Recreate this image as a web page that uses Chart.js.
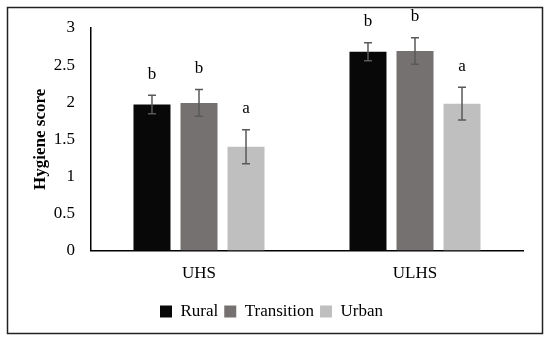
<!DOCTYPE html>
<html>
<head>
<meta charset="utf-8">
<script src="https://cdn.jsdelivr.net/npm/chart.js@4.4.0/dist/chart.umd.min.js"></script>
<style>
  html, body { margin: 0; padding: 0; background: #fff; }
  #wrap { width: 550px; height: 342px; }
</style>
</head>
<body>
<div id="wrap"><canvas id="myChart" width="550" height="342"></canvas></div>
<script>
const categories = ["UHS", "ULHS"];
const seriesNames = ["Rural", "Transition", "Urban"];
const rural = [1.97, 2.68];
const transition = [1.99, 2.69];
const urban = [1.40, 1.98];
const ruralErr = [0.125, 0.12];
const transitionErr = [0.18, 0.18];
const urbanErr = [0.23, 0.22];
const ruralLetters = ["b", "b"];
const transitionLetters = ["b", "b"];
const urbanLetters = ["a", "a"];
const yTicks = [0, 0.5, 1, 1.5, 2, 2.5, 3];

const serif = "'Liberation Serif', 'DejaVu Serif', serif";
const colors = ["#080808", "#767171", "#bfbfbf"];

// draw white background and the outer frame
const framePlugin = {
  id: "frame",
  beforeDraw(chart) {
    const ctx = chart.ctx;
    ctx.save();
    ctx.fillStyle = "#fff";
    ctx.fillRect(0, 0, chart.width, chart.height);
    ctx.strokeStyle = "#222";
    ctx.lineWidth = 1.5;
    ctx.strokeRect(7.5, 7.5, 535, 326);
    ctx.restore();
  },
};

// error bars + significance letters
const errorPlugin = {
  id: "errorBars",
  afterDatasetsDraw(chart) {
    const ctx = chart.ctx;
    const y = chart.scales.y;
    ctx.save();
    chart.data.datasets.forEach((ds, i) => {
      const meta = chart.getDatasetMeta(i);
      meta.data.forEach((bar, j) => {
        const v = ds.data[j];
        const e = ds.errors[j];
        const top = y.getPixelForValue(v + e);
        const bot = y.getPixelForValue(v - e);
        ctx.strokeStyle = "#595959";
        ctx.lineWidth = 1.5;
        ctx.beginPath();
        ctx.moveTo(bar.x, top);
        ctx.lineTo(bar.x, bot);
        ctx.moveTo(bar.x - 4, top);
        ctx.lineTo(bar.x + 4, top);
        ctx.moveTo(bar.x - 4, bot);
        ctx.lineTo(bar.x + 4, bot);
        ctx.stroke();
        ctx.fillStyle = "#000";
        ctx.font = "17px " + serif;
        ctx.textAlign = "center";
        ctx.textBaseline = "middle";
        ctx.fillText(ds.letters[j], bar.x, top - 21);
      });
    });
    ctx.restore();
  },
};

const data = {
  labels: categories,
  datasets: [
    { label: seriesNames[0], data: rural, errors: ruralErr, letters: ruralLetters, backgroundColor: colors[0] },
    { label: seriesNames[1], data: transition, errors: transitionErr, letters: transitionLetters, backgroundColor: colors[1] },
    { label: seriesNames[2], data: urban, errors: urbanErr, letters: urbanLetters, backgroundColor: colors[2] },
  ],
};

const config = {
  type: "bar",
  data: data,
  options: {
    responsive: false,
    animation: false,
    categoryPercentage: 0.653,
    barPercentage: 0.787,
    layout: {
      padding: { left: 20, right: 27, top: 28, bottom: 12 },
    },
    scales: {
      x: {
        grid: { display: false, drawTicks: false },
        border: { color: "#000", width: 1.5 },
        ticks: {
          color: "#000",
          font: { family: serif, size: 17 },
          padding: 13,
        },
      },
      y: {
        min: 0,
        max: 3,
        afterBuildTicks(scale) {
          scale.ticks = yTicks.map((v) => ({ value: v }));
        },
        afterFit(scale) {
          scale.width = 71;
        },
        grid: { display: false, drawTicks: false },
        border: { color: "#000", width: 1.5 },
        ticks: {
          color: "#000",
          font: { family: serif, size: 17 },
          padding: 16,
          callback: (v) => String(v),
        },
        title: {
          display: true,
          text: "Hygiene score",
          color: "#000",
          font: { family: serif, size: 17, weight: "bold" },
          padding: { top: 10, bottom: 0 },
        },
      },
    },
    plugins: {
      legend: {
        position: "bottom",
        labels: {
          color: "#000",
          boxWidth: 12,
          boxHeight: 12,
          font: { family: serif, size: 17 },
          padding: 6,
        },
      },
      tooltip: { enabled: false },
    },
  },
  plugins: [framePlugin, errorPlugin],
};

const myChart = new Chart(document.getElementById("myChart"), config);
</script>
</body>
</html>
